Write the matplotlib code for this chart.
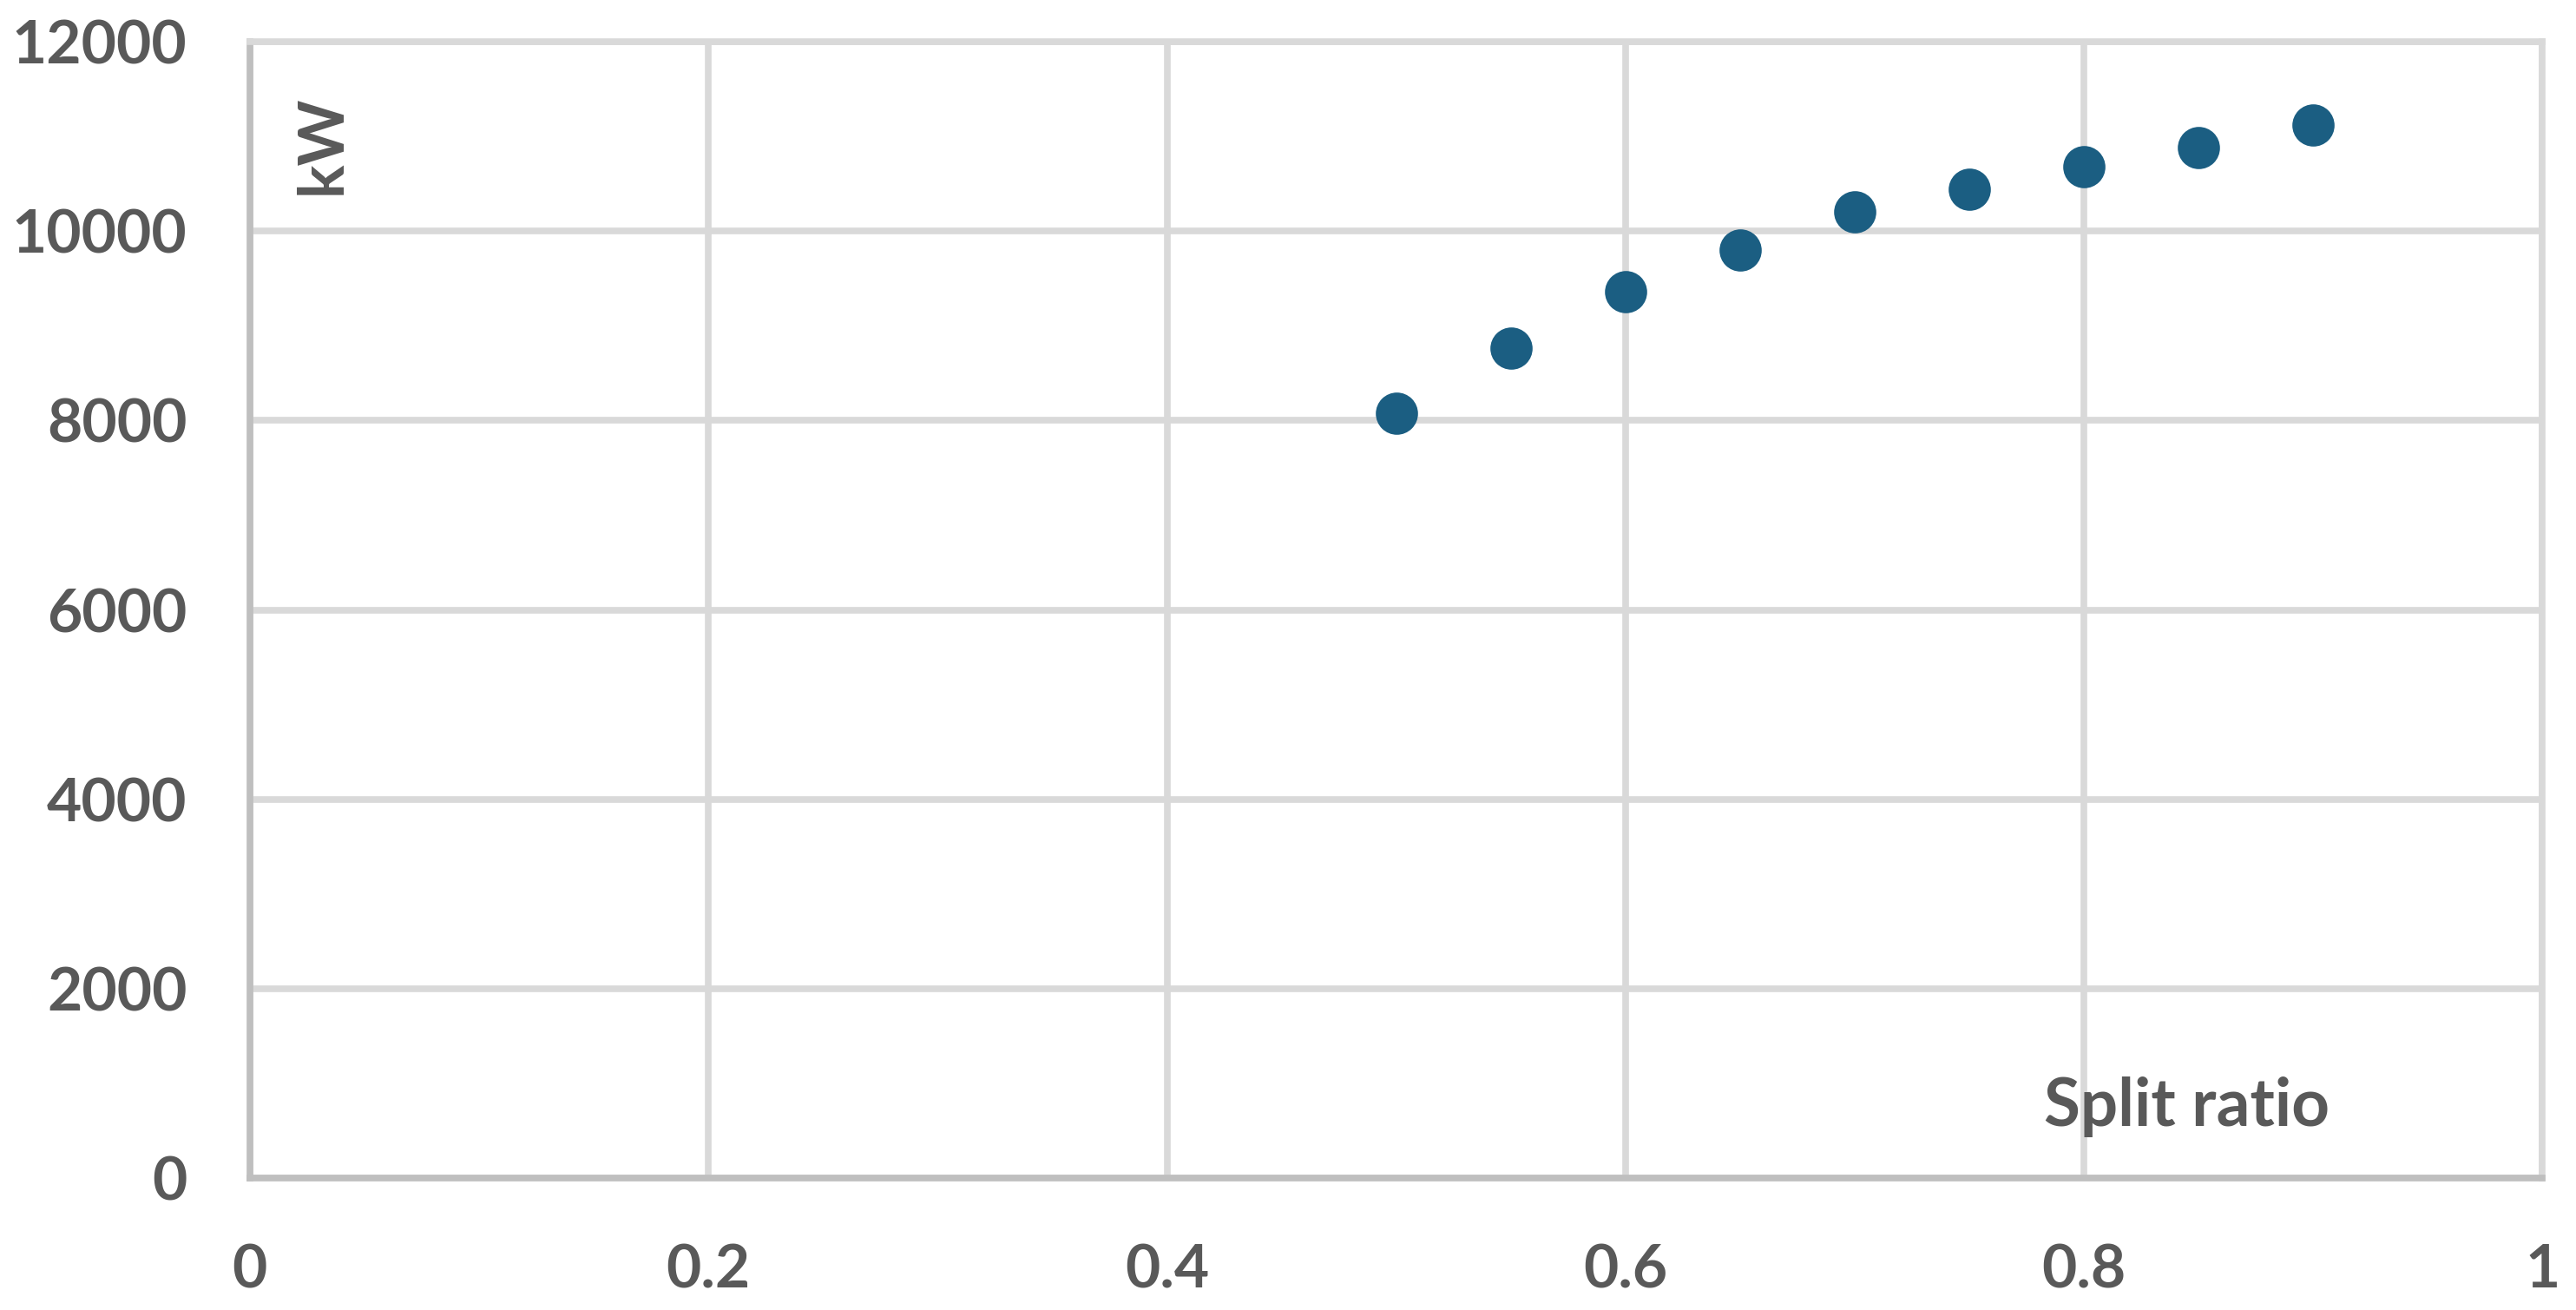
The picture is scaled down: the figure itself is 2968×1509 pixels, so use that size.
import numpy as np
import matplotlib
matplotlib.use("Agg")
import matplotlib.pyplot as plt

## data
split_ratio = [0.5, 0.55, 0.6, 0.65, 0.7, 0.75, 0.8, 0.85, 0.9]
power_kw = [8080, 8760, 9360, 9800, 10200, 10440, 10680, 10880, 11120]
x_ticks = [0, 0.2, 0.4, 0.6, 0.8, 1]
x_tick_labels = ["0", "0.2", "0.4", "0.6", "0.8", "1"]
y_ticks = [0, 2000, 4000, 6000, 8000, 10000, 12000]

plt.rcParams['font.family'] = ['Lato', 'DejaVu Sans']
plt.rcParams['font.weight'] = 'bold'

text_color = '#595959'
grid_color = '#d9d9d9'
axis_color = '#bfbfbf'

fig = plt.figure(figsize=(29.68, 15.09), dpi=100)
ax = fig.add_axes([0.097, 0.1007, 0.890, 0.8675])

ax.plot(split_ratio, power_kw, 'o', color='#1b5e82', markersize=35,
        markeredgewidth=0, zorder=3, clip_on=False)

ax.set_xlim(0, 1)
ax.set_ylim(0, 12000)
ax.set_xticks(x_ticks)
ax.set_xticklabels(x_tick_labels)
ax.set_yticks(y_ticks)

# сетка
ax.grid(True, color=grid_color, linewidth=5.5)
ax.set_axisbelow(True)
for side in ['top', 'right']:
    ax.spines[side].set_color(grid_color)
    ax.spines[side].set_linewidth(5.5)
for side in ['left', 'bottom']:
    ax.spines[side].set_color(axis_color)
    ax.spines[side].set_linewidth(5.5)

ax.tick_params(axis='both', length=0, labelsize=50, labelcolor=text_color)
ax.tick_params(axis='y', pad=52)
ax.tick_params(axis='x', pad=54)

# подписи осей внутри поля графика
ax.text(0.845, 0.063, "Split ratio", transform=ax.transAxes, fontsize=55,
        color=text_color, fontweight='bold', ha='center', va='center')
ax.text(0.032, 0.909, "kW", transform=ax.transAxes, fontsize=52,
        color=text_color, fontweight='bold', ha='center', va='center',
        rotation=90)

plt.savefig("out.png", dpi=100)
